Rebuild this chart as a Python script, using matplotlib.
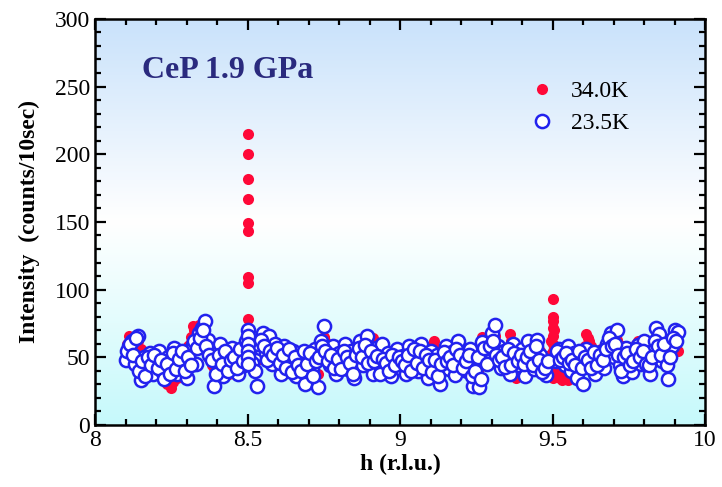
import numpy as np
import matplotlib.pyplot as plt
from matplotlib.colors import LinearSegmentedColormap
from matplotlib.ticker import MultipleLocator, FormatStrFormatter

plt.rcParams['font.family'] = ['Liberation Serif', 'DejaVu Serif']

nan = np.nan  # point not measured for that temperature

# scan points (h, r.l.u.)
h_scan = [8.10, 8.11, 8.12, 8.13, 8.14, 8.15, 8.16, 8.17, 8.18, 8.19,
          8.20, 8.21, 8.22, 8.23, 8.24, 8.25, 8.26, 8.27, 8.28, 8.29,
          8.30, 8.31, 8.32, 8.33, 8.34, 8.35, 8.36, 8.37, 8.38, 8.39,
          8.40, 8.41, 8.42, 8.43, 8.44, 8.45, 8.46, 8.47, 8.48, 8.49,
          8.50, 8.51, 8.52, 8.53, 8.54, 8.55, 8.56, 8.57, 8.58, 8.59,
          8.60, 8.61, 8.62, 8.63, 8.64, 8.65, 8.66, 8.67, 8.68, 8.69,
          8.70, 8.71, 8.72, 8.73, 8.74, 8.75, 8.76, 8.77, 8.78, 8.79,
          8.80, 8.81, 8.82, 8.83, 8.84, 8.85, 8.86, 8.87, 8.88, 8.89,
          8.90, 8.91, 8.92, 8.93, 8.94, 8.95, 8.96, 8.97, 8.98, 8.99,
          9.00, 9.01, 9.02, 9.03, 9.04, 9.05, 9.06, 9.07, 9.08, 9.09,
          9.10, 9.11, 9.12, 9.13, 9.14, 9.15, 9.16, 9.17, 9.18, 9.19,
          9.20, 9.21, 9.22, 9.23, 9.24, 9.25, 9.26, 9.27, 9.28, 9.29,
          9.30, 9.31, 9.32, 9.33, 9.34, 9.35, 9.36, 9.37, 9.38, 9.39,
          9.40, 9.41, 9.42, 9.43, 9.44, 9.45, 9.46, 9.47, 9.48, 9.49,
          9.50, 9.51, 9.52, 9.53, 9.54, 9.55, 9.56, 9.57, 9.58, 9.59,
          9.60, 9.61, 9.62, 9.63, 9.64, 9.65, 9.66, 9.67, 9.68, 9.69,
          9.70, 9.71, 9.72, 9.73, 9.74, 9.75, 9.76, 9.77, 9.78, 9.79,
          9.80, 9.81, 9.82, 9.83, 9.84, 9.85, 9.86, 9.87, 9.88, 9.89,
          9.90, 9.91]

cnt_34K = [52, 66, 58, 48, 62, 56, 44, 38, 50, 42,
           46, 52, 38, 34, 45, 27, 40, 35, 48, 44,
           55, 60, 73, 68, 74, 62, 58, 50, 47, 42,
           44, 55, 40, 48, 38, 52, 46, 43, 50, 47,
           72, 58, 54, 48, 52, 60, 57, 62, 50, 55,
           58, 45, 54, 47, 40, 52, 44, 50, 46, 41,
           48, 45, 52, 38, 56, 65, 60, 46, 54, 42,
           50, 44, 55, 46, 52, 40, 50, 57, 47, 60,
           55, 64, 52, 48, 57, 45, 50, 40, 52, 53,
           46, 54, 42, 56, 48, 51, 44, 57, 50, 42,
           53, 62, 55, 45, 52, 56, 44, 52, 42, 58,
           48, 55, 44, 50, 40, 47, 42, 65, 56, 50,
           62, 66, 55, 46, 52, 50, 67, 57, 35, 48,
           53, 40, 57, 50, 46, 58, 55, 48, 42, 52,
           93, 52, 50, 33, 48, 33, 52, 50, 45, 52,
           47, 67, 62, 55, 45, 50, 56, 48, 58, 62,
           54, 63, 50, 58, 55, 50, 46, 57, 62, 50,
           56, 52, 45, 60, 66, 62, 54, 58, 48, 57,
           62, 55]

cnt_23K = [48, 58, 62, 45, 66, 33, 50, 42, 53, 38,
           47, 55, 40, 36, 50, 44, 57, 38, 52, 47,
           35, 55, 59, 45, 68, 72, 77, 63, 55, 29,
           48, 60, 36, 50, 42, 57, 46, 38, 52, 44,
           70, 62, 50, 29, 57, 68, 53, 66, 45, 60,
           54, 38, 58, 49, 43, 55, 36, 46, 52, 30,
           49, 41, 56, 28, 62, 73, 51, 44, 58, 38,
           53, 46, 60, 41, 55, 35, 48, 62, 44, 66,
           50, 38, 57, 45, 60, 41, 53, 36, 48, 56,
           42, 51, 38, 58, 45, 53, 40, 60, 47, 35,
           55, 43, 52, 30, 49, 58, 41, 54, 37, 62,
           46, 51, 40, 56, 29, 44, 28, 61, 53, 47,
           68, 74, 58, 42, 55, 48, 38, 60, 50, 44,
           56, 36, 62, 48, 41, 63, 52, 45, 37, nan,
           nan, 47, 56, 52, 44, 58, 40, 53, 35, 49,
           30, 56, 45, 51, 38, 47, 54, 42, 60, 68,
           50, 70, 44, 36, 57, 48, 39, 53, 59, 45,
           62, 50, 38, 55, 72, 67, 47, 57, 34, 58,
           70, 69]

# interleaved half-step scan points
h_mid = [8.105, 8.115, 8.125, 8.135, 8.145, 8.155, 8.165, 8.175, 8.185, 8.195,
         8.205, 8.215, 8.225, 8.235, 8.245, 8.255, 8.265, 8.275, 8.285, 8.295,
         8.305, 8.315, 8.325, 8.335, 8.345, 8.355, 8.365, 8.375, 8.385, 8.395,
         8.405, 8.415, 8.425, 8.435, 8.445, 8.455, 8.465, 8.475, 8.485, 8.495,
         8.505, 8.515, 8.525, 8.535, 8.545, 8.555, 8.565, 8.575, 8.585, 8.595,
         8.605, 8.615, 8.625, 8.635, 8.645, 8.655, 8.665, 8.675, 8.685, 8.695,
         8.705, 8.715, 8.725, 8.735, 8.745, 8.755, 8.765, 8.775, 8.785, 8.795,
         8.805, 8.815, 8.825, 8.835, 8.845, 8.855, 8.865, 8.875, 8.885, 8.895,
         8.905, 8.915, 8.925, 8.935, 8.945, 8.955, 8.965, 8.975, 8.985, 8.995,
         9.005, 9.015, 9.025, 9.035, 9.045, 9.055, 9.065, 9.075, 9.085, 9.095,
         9.105, 9.115, 9.125, 9.135, 9.145, 9.155, 9.165, 9.175, 9.185, 9.195,
         9.205, 9.215, 9.225, 9.235, 9.245, 9.255, 9.265, 9.275, 9.285, 9.295,
         9.305, 9.315, 9.325, 9.335, 9.345, 9.355, 9.365, 9.375, 9.385, 9.395,
         9.405, 9.415, 9.425, 9.435, 9.445, 9.455, 9.465, 9.475, 9.485, 9.495,
         9.505, 9.515, 9.525, 9.535, 9.545, 9.555, 9.565, 9.575, 9.585, 9.595,
         9.605, 9.615, 9.625, 9.635, 9.645, 9.655, 9.665, 9.675, 9.685, 9.695,
         9.705, 9.715, 9.725, 9.735, 9.745, 9.755, 9.765, 9.775, 9.785, 9.795,
         9.805, 9.815, 9.825, 9.835, 9.845, 9.855, 9.865, 9.875, 9.885, 9.895,
         9.905]

cnt_34K_mid = [60, 63, 52, 55, 65, 48, 42, 45, 46, 40,
               50, 44, 36, 30, 40, 32, 44, 50, 42, 48,
               58, 65, 70, 62, 68, 60, 54, 52, 44, 40,
               50, 46, 44, 42, 48, 50, 45, 47, 52, 60,
               62, 50, 52, 55, 58, 54, 60, 56, 52, 58,
               50, 48, 52, 42, 46, 48, 40, 52, 44, 46,
               46, 50, 48, 52, 60, 62, 52, 50, 48, 46,
               48, 52, 50, 48, 46, 45, 54, 52, 55, 57,
               60, 57, 50, 52, 50, 48, 45, 48, 50, 50,
               50, 48, 50, 52, 52, 48, 52, 54, 46, 48,
               58, 56, 50, 48, 50, 52, 48, 46, 50, 54,
               52, 50, 48, 46, 44, 45, 55, 62, 52, 56,
               64, 60, 52, 48, 50, 56, 62, 48, 40, 50,
               46, 48, 52, 54, 50, 54, 50, 45, 50, 62,
               70, 40, 35, 40, 36, 45, 50, 48, 50, 50,
               58, 64, 58, 50, 48, 52, 52, 52, 55, 58,
               58, 56, 54, 55, 52, 48, 52, 60, 56, 52,
               54, 48, 52, 58, 62, 58, 56, 52, 54, 55,
               58]

cnt_23K_mid = [55, 60, 52, 64, 40, 47, 36, 50, 44, 52,
               42, 48, 34, 45, 38, 53, 41, 49, 55, 40,
               50, 44, 62, 57, 64, 70, 58, 52, 48, 38,
               52, 45, 55, 40, 48, 50, 42, 56, 47, 62,
               55, 46, 40, 60, 63, 58, 48, 55, 52, 57,
               46, 52, 42, 56, 39, 50, 44, 40, 55, 45,
               53, 36, 47, 50, 58, 55, 47, 52, 42, 49,
               41, 55, 50, 46, 38, 52, 57, 50, 59, 46,
               55, 47, 51, 38, 49, 46, 40, 52, 44, 50,
               47, 44, 52, 40, 56, 46, 55, 42, 52, 48,
               39, 48, 36, 45, 54, 47, 50, 44, 56, 52,
               42, 47, 52, 36, 40, 50, 34, 57, 45, 58,
               62, 52, 48, 50, 43, 56, 44, 53, 47, 52,
               45, 50, 55, 44, 58, 48, 39, 42, 47, nan,
               nan, 55, 48, 50, 53, 46, 48, 44, 55, 42,
               50, 48, 42, 54, 44, 52, 48, 56, 64, 58,
               60, 52, 40, 50, 53, 44, 47, 56, 50, 55,
               45, 44, 50, 62, 58, 52, 60, 44, 50, 64,
               62]

# extra points taken on the h = 8.5 and 9.5 peaks
h_34K_peak = [8.50, 8.50, 8.50, 8.50, 8.50, 8.50, 8.50, 8.50, 8.50, 8.50, 8.50,
              9.50, 9.50, 9.50, 9.50, 9.50, 9.50, 9.50, 9.50, 9.50, 9.50]
cnt_34K_peak = [215, 200, 182, 167, 149, 143, 109, 105, 78, 65, 45,
                80, 77, 72, 66, 60, 55, 50, 45, 40, 35]
h_23K_peak = [8.50, 8.50, 8.50, 8.50, 8.50]
cnt_23K_peak = [66, 60, 55, 50, 45]

fig = plt.figure(figsize=(7.22, 4.87), dpi=100)
ax = fig.add_axes([0.1316, 0.1273, 0.845, 0.834])

# background gradient: light blue on top, white in the middle, light cyan at bottom
bg = LinearSegmentedColormap.from_list('bg', ['#c6f9fb', '#ffffff', '#c9e2fb'])
ax.imshow(np.linspace(0, 1, 256).reshape(-1, 1), cmap=bg, origin='lower',
          extent=[0, 1, 0, 1], transform=ax.transAxes, aspect='auto', zorder=0)

red = '#ff0838'
blue = '#2222ee'
for hx, cy in [(h_scan, cnt_34K), (h_mid, cnt_34K_mid), (h_34K_peak, cnt_34K_peak)]:
    ax.plot(hx, cy, 'o', color=red, ms=8, mew=0, zorder=2)
for hx, cy in [(h_scan, cnt_23K), (h_mid, cnt_23K_mid), (h_23K_peak, cnt_23K_peak)]:
    ax.plot(hx, cy, 'o', mfc='white', mec=blue, ms=9.5, mew=1.8, zorder=3)
ax.plot([], [], 'o', color=red, ms=8, mew=0, label='34.0K')
ax.plot([], [], 'o', mfc='white', mec=blue, ms=9.5, mew=1.8, label='23.5K')

ax.set_xlim(8, 10)
ax.set_ylim(0, 300)
ax.xaxis.set_major_locator(MultipleLocator(0.5))
ax.xaxis.set_minor_locator(MultipleLocator(0.1))
ax.xaxis.set_major_formatter(FormatStrFormatter('%g'))
ax.yaxis.set_major_locator(MultipleLocator(50))
ax.yaxis.set_minor_locator(MultipleLocator(10))
ax.tick_params(which='both', direction='in', top=True, right=True, width=1.6,
               labelsize=17)
ax.tick_params(which='major', length=8)
ax.tick_params(which='minor', length=4.5)
for s in ax.spines.values():
    s.set_linewidth(1.8)

ax.set_xlabel('h (r.l.u.)', fontsize=17, fontweight='bold', labelpad=2)
ax.set_ylabel('Intensity  (counts/10sec)', fontsize=17, fontweight='bold', labelpad=11)

ax.text(0.077, 0.872, 'CeP 1.9 GPa', transform=ax.transAxes, fontsize=23,
        fontweight='bold', color='#2a2a7e', va='center', zorder=4)

ax.legend(loc='upper left', bbox_to_anchor=(0.675, 0.9), frameon=False, fontsize=17,
          handletextpad=0.6, labelspacing=0.45, handlelength=1.2)

fig.savefig('out.png', dpi=100)
